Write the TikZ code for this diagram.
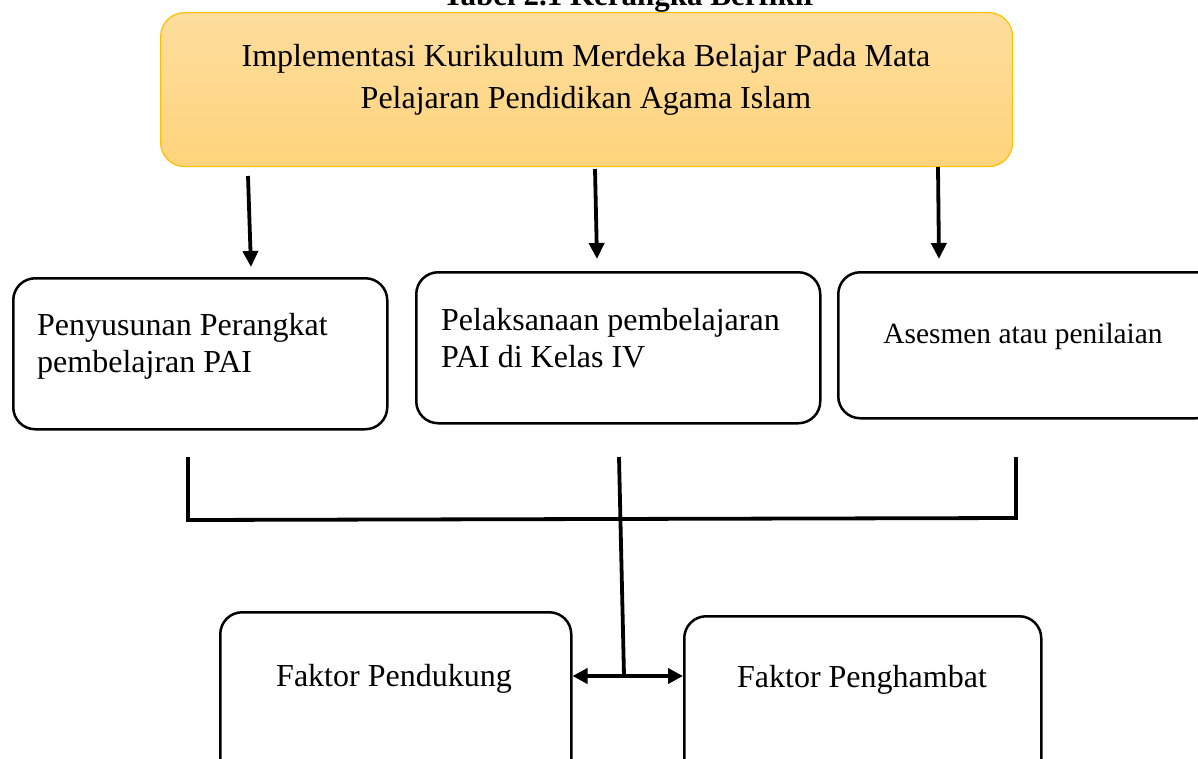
\documentclass[tikz,border=0pt]{standalone}
\usepackage{fontspec}
\setmainfont{Liberation Serif}
\usetikzlibrary{arrows.meta}
\definecolor{topfillA}{HTML}{FDDD9D}
\definecolor{topfillB}{HTML}{FFD47C}
\definecolor{topline}{HTML}{FFC000}
\begin{document}
\begin{tikzpicture}[x=1pt,y=-1pt,
  box/.style={draw=black,line width=2.5pt,rounded corners=22pt,anchor=north west,inner sep=0pt},
  conn/.style={line width=3.8pt,draw=black},
  arr/.style={conn,-{Triangle[length=16pt,width=15pt]}},
  darr/.style={conn,{Triangle[length=15pt,width=15pt]}-{Triangle[length=15pt,width=15pt]}},
  txt/.style={font=\fontsize{32}{37}\selectfont,align=left,anchor=west,inner sep=0pt}]
\useasboundingbox (0,0) rectangle (1198,758);
\clip (0,0) rectangle (1198,758);
% title (cut off)
\node[font=\fontsize{31}{34}\selectfont\bfseries,anchor=base,inner sep=0pt] (title) at (630,5) {Tabel 2.1 Kerangka Berfikir};
% top box
\node[draw=topline,line width=1.2pt,rounded corners=24pt,top color=topfillA,bottom color=topfillB,
  anchor=north west,minimum width=852pt,minimum height=154pt,inner sep=0pt] (top) at (160,12) {};
\node[font=\fontsize{32}{42}\selectfont,align=center,inner sep=0pt] (toptext) at (586,80)
  {Implementasi Kurikulum Merdeka Belajar Pada Mata\\Pelajaran Pendidikan Agama Islam};
% middle boxes
\node[box,minimum width=374pt,minimum height=151pt] (b1) at (12,277) {};
\node[txt] (t1) at (37,346) {Penyusunan Perangkat\\pembelajran PAI};
\node[box,minimum width=404pt,minimum height=151pt] (b2) at (415,271) {};
\node[txt] (t2) at (441,338) {Pelaksanaan pembelajaran\\PAI di Kelas IV};
\node[box,minimum width=380pt,minimum height=146pt] (b3) at (837,271) {};
\node[txt,font=\fontsize{29.4}{34}\selectfont,anchor=center] (t3) at (1023,336) {Asesmen atau penilaian};
% bottom boxes
\node[box,minimum width=351pt,minimum height=170pt] (b4) at (219,611) {};
\node[txt,anchor=center] (t4) at (394,679) {Faktor Pendukung};
\node[box,minimum width=357pt,minimum height=170pt] (b5) at (683,615) {};
\node[txt,anchor=center] (t5) at (862,680) {Faktor Penghambat};
% coordinates
\coordinate (a1s) at (248,176); \coordinate (a1e) at (251,267);
\coordinate (a2s) at (595,169); \coordinate (a2e) at (597,259);
\coordinate (a3s) at (938,167); \coordinate (a3e) at (939,259);
\coordinate (l1) at (188,457); \coordinate (l1b) at (188,520);
\coordinate (r1) at (1016,457); \coordinate (r1b) at (1016,518);
\coordinate (m1) at (619,457); \coordinate (m1b) at (624,676);
% arrows from top box
\draw[arr] (a1s) -- (a1e);
\draw[arr] (a2s) -- (a2e);
\draw[arr] (a3s) -- (a3e);
% bracket
\draw[conn] (l1) -- (l1b) -- (r1b) -- (r1);
\draw[conn] (m1) -- (m1b);
\draw[darr] (b4.east |- m1b) -- (b5.west |- m1b);
\end{tikzpicture}
\end{document}
